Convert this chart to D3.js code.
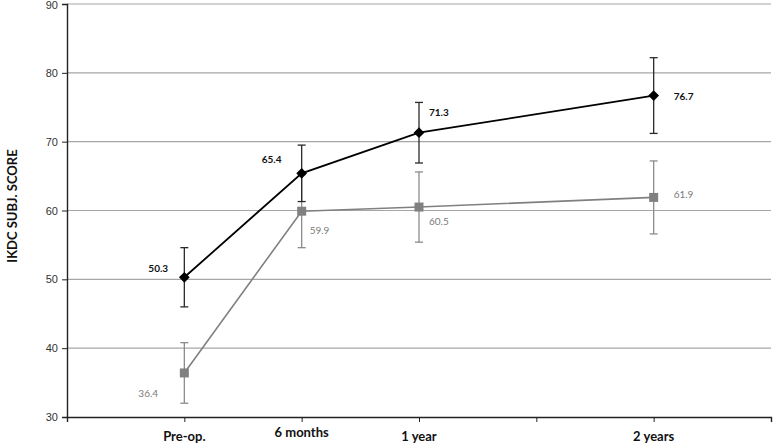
<!DOCTYPE html>
<html>
<head>
<meta charset="utf-8">
<title>IKDC subjective score</title>
<script src="https://d3js.org/d3.v7.min.js"></script>
<style>
  body { margin: 0; background: #fff; }
  svg { display: block; }
</style>
</head>
<body>
<svg width="774" height="444"></svg>
<script>
// time points in months, Pre-op = 0
var months = [0, 6, 12, 24];
var tickLabels = ["Pre-op.", "6 months", "1 year", "2 years"];

// black series (diamonds)
var blackValues = [50.3, 65.4, 71.3, 76.7];
var blackErr = [4.3, 4.1, 4.4, 5.5];

// gray series (squares)
var grayValues = [36.4, 59.9, 60.5, 61.9];
var grayErr = [4.4, 5.3, 5.1, 5.3];

var yTicks = [30, 40, 50, 60, 70, 80, 90];

// label offsets (layout only)
var blackLabelPos = [[-36, -5], [-40, -10], [10, -17], [20, 4]];
var grayLabelPos = [[-46, 24], [8, 23], [10, 18], [20, 1]];

var svg = d3.select("svg");

var x = d3.scaleLinear().domain([-6, 30]).range([67, 771]);
var y = d3.scaleLinear().domain([30, 90]).range([417, 4]);

// gridlines
svg.append("g")
  .selectAll("line")
  .data(yTicks.slice(1))
  .join("line")
  .attr("x1", x(-6)).attr("x2", x(30))
  .attr("y1", d => y(d)).attr("y2", d => y(d))
  .attr("stroke", "#a6a6a6")
  .attr("stroke-width", 1.2);

// y axis
var yAxis = svg.append("g")
  .attr("transform", "translate(" + x(-6) + ",0)")
  .call(d3.axisLeft(y).tickValues(yTicks).tickSize(5).tickPadding(4));
yAxis.select(".domain").attr("stroke", "#222").attr("stroke-width", 1.4);
yAxis.selectAll(".tick line").attr("stroke", "#222");
yAxis.selectAll("text")
  .attr("font-family", "Liberation Sans, Arial, sans-serif")
  .attr("font-size", 11)
  .attr("fill", "#333");
// keep the top label inside the picture
yAxis.selectAll("text").filter(d => d === 90).attr("dy", "0.45em");

// x axis
var xAxis = svg.append("g")
  .attr("transform", "translate(0," + y(30) + ")")
  .call(d3.axisBottom(x).tickValues([-6, 0, 6, 12, 18, 24, 30]).tickSize(5).tickFormat(""));
xAxis.select(".domain").attr("stroke", "#222").attr("stroke-width", 1.4);
xAxis.selectAll(".tick line").attr("stroke", "#222");

svg.append("g")
  .selectAll("text")
  .data(months)
  .join("text")
  .attr("x", d => x(d))
  .attr("y", (d, i) => i === 1 ? 437 : 441)
  .attr("text-anchor", "middle")
  .attr("font-family", "Lato, 'Open Sans', sans-serif")
  .attr("font-weight", "bold")
  .attr("font-size", 13)
  .attr("fill", "#111")
  .text((d, i) => tickLabels[i]);

// y axis title
svg.append("text")
  .attr("transform", "translate(17,206) rotate(-90)")
  .attr("text-anchor", "middle")
  .attr("font-family", "Lato, 'Open Sans', sans-serif")
  .attr("font-weight", "bold")
  .attr("font-size", 13)
  .attr("fill", "#111")
  .text("IKDC SUBJ. SCORE");

function drawSeries(values, errs, opts) {
  var g = svg.append("g");
  var pts = months.map((m, i) => ({ m: m, v: values[i], e: errs[i], i: i }));

  // error bars
  var eb = g.append("g").attr("stroke", opts.errColor).attr("stroke-width", 1.3);
  pts.forEach(function(p) {
    var cx = x(p.m);
    eb.append("line").attr("x1", cx).attr("x2", cx).attr("y1", y(p.v - p.e)).attr("y2", y(p.v + p.e));
    eb.append("line").attr("x1", cx - 4).attr("x2", cx + 4).attr("y1", y(p.v - p.e)).attr("y2", y(p.v - p.e));
    eb.append("line").attr("x1", cx - 4).attr("x2", cx + 4).attr("y1", y(p.v + p.e)).attr("y2", y(p.v + p.e));
  });

  // line
  g.append("path")
    .datum(pts)
    .attr("fill", "none")
    .attr("stroke", opts.color)
    .attr("stroke-width", opts.width)
    .attr("d", d3.line().x(d => x(d.m)).y(d => y(d.v)));

  // markers
  g.selectAll(".mk")
    .data(pts)
    .join("path")
    .attr("transform", d => "translate(" + x(d.m) + "," + y(d.v) + ")" + (opts.diamond ? " rotate(45)" : ""))
    .attr("d", opts.diamond ? "M-3.8,-3.8H3.8V3.8H-3.8Z" : "M-4.5,-4.5H4.5V4.5H-4.5Z")
    .attr("fill", opts.color);

  // value labels
  g.selectAll(".lbl")
    .data(pts)
    .join("text")
    .attr("x", d => x(d.m) + opts.labelPos[d.i][0])
    .attr("y", d => y(d.v) + opts.labelPos[d.i][1])
    .attr("font-family", "Lato, 'Open Sans', sans-serif")
    .attr("font-weight", opts.bold ? "bold" : "normal")
    .attr("font-size", 10)
    .attr("fill", opts.labelColor)
    .text(d => d.v.toFixed(1));
}

drawSeries(grayValues, grayErr, {
  color: "#808080", width: 1.6, errColor: "#8c8c8c", diamond: false,
  labelPos: grayLabelPos, labelColor: "#7a7a7a", bold: false
});
drawSeries(blackValues, blackErr, {
  color: "#000", width: 1.8, errColor: "#2a2a2a", diamond: true,
  labelPos: blackLabelPos, labelColor: "#111", bold: true
});
</script>
</body>
</html>
